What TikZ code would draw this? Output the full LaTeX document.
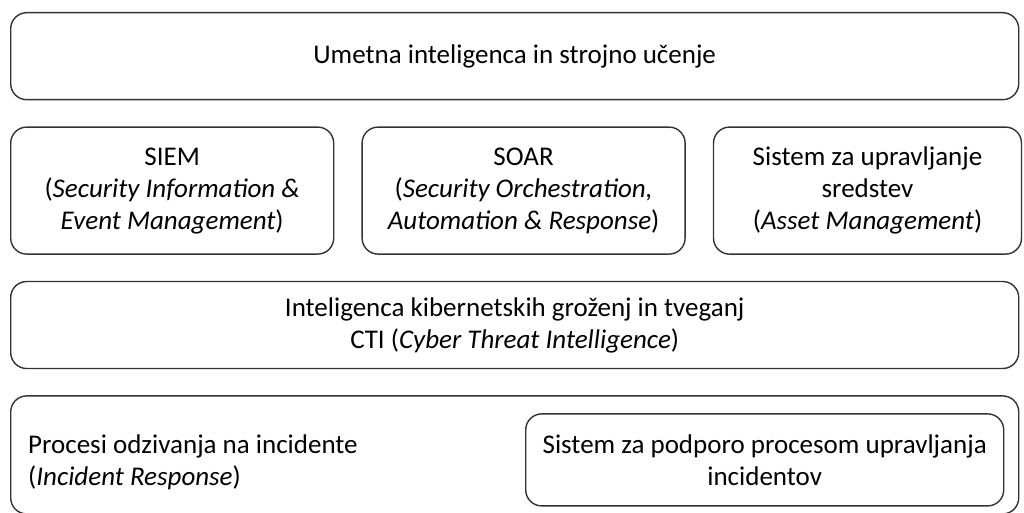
\documentclass[tikz,border=0pt]{standalone}
\usepackage{fontspec}
\setmainfont{Carlito}
\usetikzlibrary{positioning}

\begin{document}
\begin{tikzpicture}[
  x=1pt, y=-1pt,
  node distance=26pt and 27pt,
  box/.style={draw=black!80, line width=1.4pt, rounded corners=16pt, inner sep=0pt, align=center, font=\fontsize{27}{32}\selectfont},
  plain/.style={inner sep=0pt, align=left, font=\fontsize{27}{32}\selectfont}
]
  \useasboundingbox (0,0) rectangle (1024,513);
  \node[box, anchor=north west, minimum width=1008pt, minimum height=87pt] (ai) at (10,12) {Umetna inteligenca in strojno učenje};
  \node[box, below=of ai.south west, anchor=north west, minimum width=323pt, minimum height=127pt] (siem) {SIEM\\(\textit{Security Information \&}\\\textit{Event Management})};
  \node[box, right=of siem, minimum width=323pt, minimum height=127pt] (soar) {SOAR\\(\textit{Security Orchestration,}\\\textit{Automation \& Response})};
  \node[box, right=of soar, minimum width=308pt, minimum height=127pt] (asset) {Sistem za upravljanje\\sredstev\\(\textit{Asset Management})};
  \node[box, below=of siem.south west, anchor=north west, minimum width=1008pt, minimum height=87pt] (cti) {Inteligenca kibernetskih groženj in tveganj\\CTI (\textit{Cyber Threat Intelligence})};
  \node[box, below=of cti.south west, anchor=north west, minimum width=1008pt, minimum height=118pt] (ir) {};
  \node[plain, right=18pt of ir.west, anchor=west, yshift=-7pt] (irtext) {Procesi odzivanja na incidente\\(\textit{Incident Response})};
  \node[box, left=15pt of ir.east, anchor=east, yshift=-5pt, minimum width=478pt, minimum height=92pt] (support) {Sistem za podporo procesom upravljanja\\incidentov};
\end{tikzpicture}
\end{document}
